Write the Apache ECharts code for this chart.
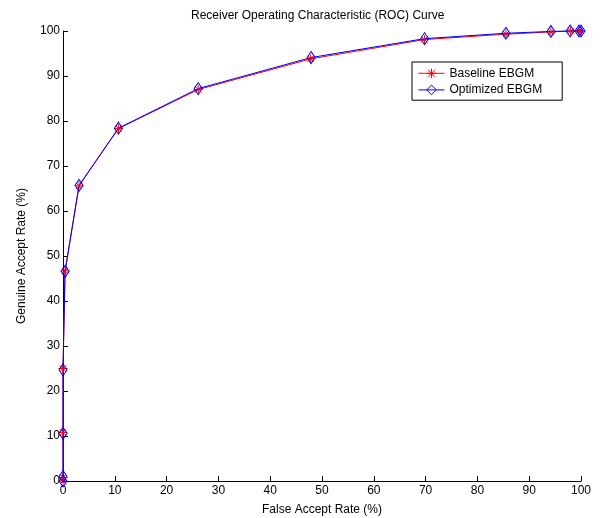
<!DOCTYPE html>
<html>
  <head>
    <meta charset="UTF-8" />
    <title>ROC Curve</title>
    <script src="https://cdn.jsdelivr.net/npm/echarts@6/dist/echarts.min.js"></script>
  </head>
  <body style="margin:0;background:#fff">
    <div id="rocChart" style="width: 600px; height: 518px"></div>
  </body>
  <script>
    // values (percent)
    const baselineFar = [0, 0, 0, 0, 0.4, 3.1, 10.7, 26.1, 47.8, 69.8, 85.5, 94.2, 98.0, 99.6, 100];
    const baselineGar = [0, 0.8, 10.8, 25.0, 46.7, 65.6, 78.3, 87.0, 93.8, 98.1, 99.3, 99.8, 100, 100, 100];
    const optimizedFar = [0, 0, 0, 0, 0.4, 3.1, 10.7, 26.1, 47.9, 69.8, 85.5, 94.2, 97.9, 99.6, 100];
    const optimizedGar = [0, 1.0, 10.6, 24.7, 46.6, 65.7, 78.4, 87.2, 94.1, 98.3, 99.5, 99.9, 100, 100, 100];
    const tickValues = [0, 10, 20, 30, 40, 50, 60, 70, 80, 90, 100];

    const font = "'Liberation Sans', Arial, sans-serif";
    const starPath = 'path://M0,5L10,5M5,0L5,10M1.5,1.5L8.5,8.5M8.5,1.5L1.5,8.5';
    const diamondPath = 'path://M5,0L10,5L5,10L0,5Z';

    let myChart = echarts.init(document.getElementById('rocChart'));

    const axisCommon = {
      type: 'value',
      min: tickValues[0],
      max: tickValues[tickValues.length - 1],
      interval: 10,
      nameLocation: 'middle',
      nameTextStyle: { color: '#000', fontFamily: font, fontSize: 12 },
      axisLine: { show: true, lineStyle: { color: '#000', width: 1 } },
      axisTick: { show: true, inside: true, length: 5, lineStyle: { color: '#000' } },
      axisLabel: { color: '#000', fontFamily: font, fontSize: 12 },
      splitLine: { show: false }
    };

    myChart.setOption({
      animation: false,
      backgroundColor: '#fff',
      title: {
        text: 'Receiver Operating Characteristic (ROC) Curve',
        left: 186,
        top: 5,
        textStyle: { color: '#000', fontFamily: font, fontSize: 12, fontWeight: 'normal' }
      },
      grid: { left: 63, right: 19, top: 31, bottom: 37, outerBoundsMode: 'none' },
      legend: {
        orient: 'vertical',
        left: 412,
        top: 62,
        padding: [4, 20, 3, 6],
        itemGap: 2,
        itemWidth: 26,
        itemHeight: 12,
        borderColor: '#000',
        borderWidth: 1,
        backgroundColor: '#fff',
        lineStyle: { width: 1 },
        itemStyle: { borderWidth: 1 },
        textStyle: { color: '#000', fontFamily: font, fontSize: 12 },
        data: ['Baseline EBGM', 'Optimized EBGM']
      },
      xAxis: Object.assign({}, axisCommon, {
        name: 'False Accept Rate (%)',
        nameGap: 23,
        axisLabel: Object.assign({}, axisCommon.axisLabel, { margin: 4 })
      }),
      yAxis: Object.assign({}, axisCommon, {
        name: 'Genuine Accept Rate (%)',
        nameGap: 35,
        axisLabel: Object.assign({}, axisCommon.axisLabel, { margin: 3 })
      }),
      series: [
        {
          name: 'Baseline EBGM',
          type: 'line',
          clip: false,
          data: baselineFar.map((x, i) => [x, baselineGar[i]]),
          symbol: starPath,
          symbolSize: 9,
          showAllSymbol: true,
          lineStyle: { color: '#ff0000', width: 1 },
          itemStyle: { color: 'none', borderColor: '#ff0000', borderWidth: 1 }
        },
        {
          name: 'Optimized EBGM',
          type: 'line',
          clip: false,
          data: optimizedFar.map((x, i) => [x, optimizedGar[i]]),
          symbol: diamondPath,
          symbolSize: [8, 12],
          showAllSymbol: true,
          lineStyle: { color: '#0000ff', width: 1 },
          itemStyle: { color: 'none', borderColor: '#0000ff', borderWidth: 1 }
        }
      ]
    });
  </script>
</html>
